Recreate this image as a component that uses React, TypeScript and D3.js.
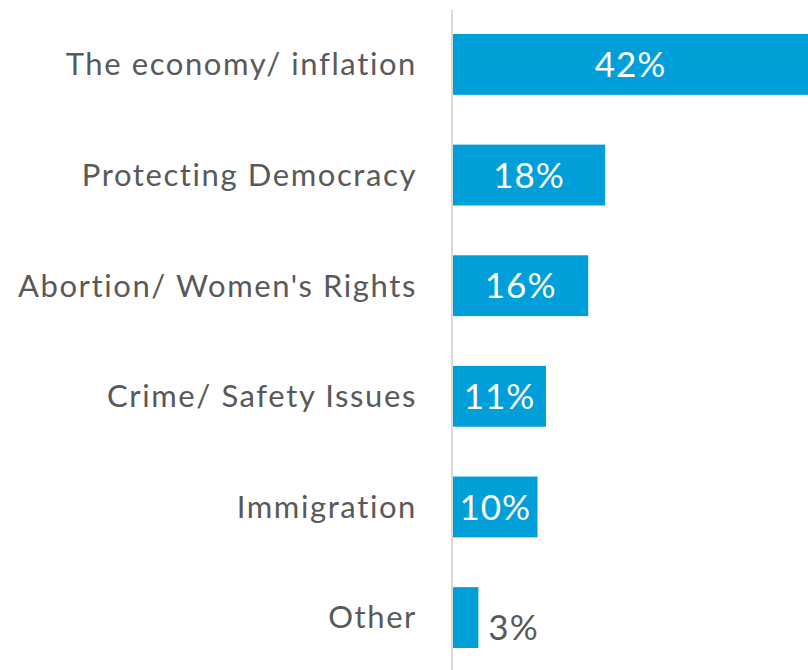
import React from "react";
import * as d3 from "d3";

const categories = [
  "The economy/ inflation",
  "Protecting Democracy",
  "Abortion/ Women's Rights",
  "Crime/ Safety Issues",
  "Immigration",
  "Other",
];
const values = [42, 18, 16, 11, 10, 3];

const W = 808;
const H = 670;
const FONT = "Lato, 'Open Sans', sans-serif";

export default function App() {
  const x = d3.scaleLinear().domain([0, 42]).range([453, 808]);
  const y = d3.scaleBand<string>().domain(categories).range([34, 648]).paddingInner(0.45).paddingOuter(0);
  const bw = y.bandwidth();
  return (
    <svg
      width={W}
      height={H}
      style={{ position: "absolute", left: 0, top: 0, background: "#fff", fontVariantLigatures: "none" }}
      fontFamily={FONT}
    >
      <line x1={452} x2={452} y1={10} y2={670} stroke="#d9d9d9" strokeWidth={2} />
      {categories.map((c, i) => {
        const yy = y(c)!;
        const v = values[i];
        const inside = v >= 5;
        return (
          <g key={c}>
            <rect x={x(0)} y={yy} width={x(v) - x(0)} height={bw} fill="#009fda" />
            <text
              x={417}
              y={yy + bw / 2}
              dy="0.35em"
              textAnchor="end"
              fontSize={31}
              letterSpacing={1.6}
              fill="#595959"
            >
              {c}
            </text>
            {inside ? (
              <text
                x={(x(0) + x(v)) / 2}
                y={yy + bw / 2}
                dy="0.36em"
                textAnchor="middle"
                fontSize={35}
                letterSpacing={1}
                fill="#fff"
              >
                {v}%
              </text>
            ) : (
              <text x={x(v) + 10} y={yy + bw - 8} textAnchor="start" fontSize={35} letterSpacing={1} fill="#595959">
                {v}%
              </text>
            )}
          </g>
        );
      })}
    </svg>
  );
}
